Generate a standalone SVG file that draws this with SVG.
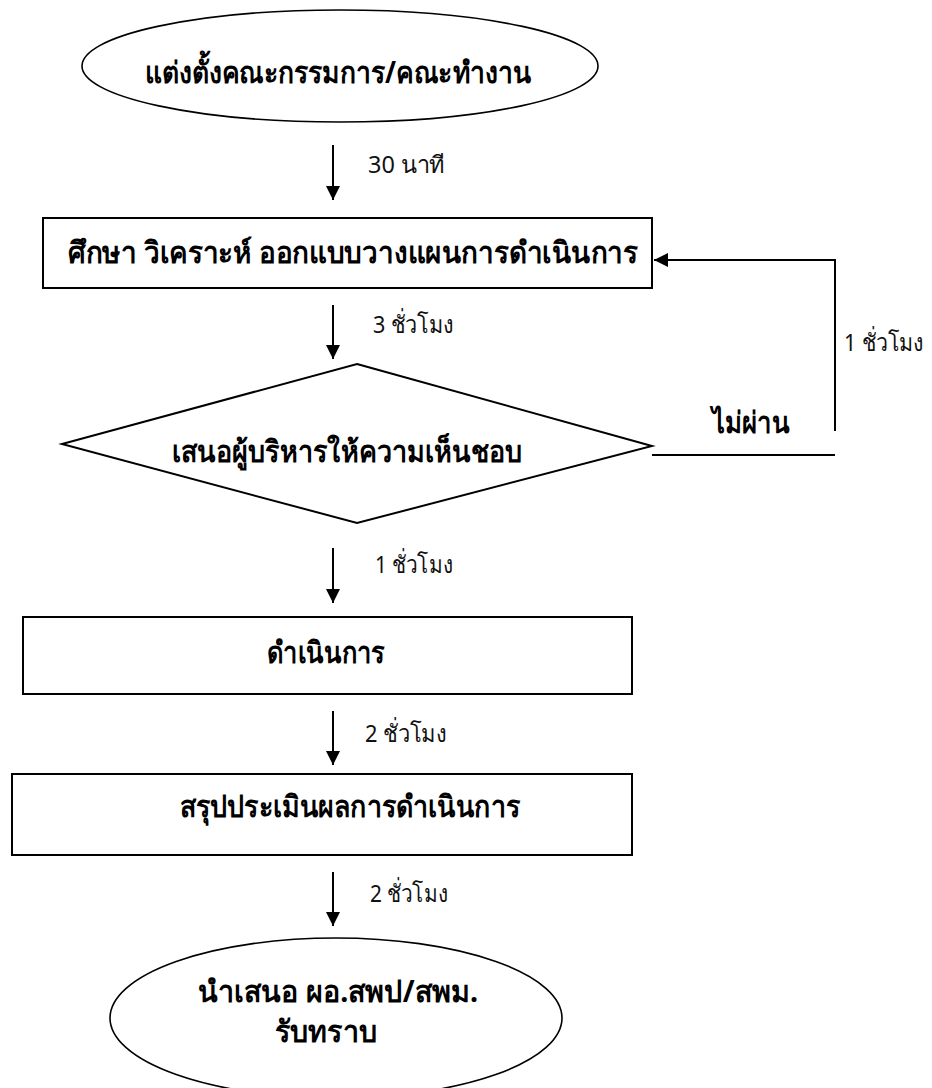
<svg xmlns="http://www.w3.org/2000/svg" width="932" height="1088" viewBox="0 0 932 1088">
<defs>
<style>
.node{fill:#fff;stroke:#000;stroke-width:2}
.term{fill:#fff;stroke:#000;stroke-width:1.6}
.t{font-family:"Noto Sans","DejaVu Sans",sans-serif;font-size:30px;font-weight:bold;fill:#000}
.lbl{font-family:"Noto Sans","DejaVu Sans",sans-serif;font-size:24px;font-weight:normal;fill:#111}
.edge{fill:none;stroke:#000;stroke-width:2}
</style>
<marker id="ah" viewBox="0 0 14 14" refX="14" refY="7" markerWidth="14" markerHeight="14" markerUnits="userSpaceOnUse" orient="auto">
<path d="M0,0 L14,7 L0,14 Z" fill="#000"/>
</marker>
</defs>
<rect width="932" height="1088" fill="#fff"/>
<g id="connectors">
<line class="edge" x1="333" y1="145" x2="333" y2="200" marker-end="url(#ah)"/>
<line class="edge" x1="333" y1="305" x2="333" y2="359" marker-end="url(#ah)"/>
<line class="edge" x1="333" y1="548" x2="333" y2="603" marker-end="url(#ah)"/>
<line class="edge" x1="333" y1="711" x2="333" y2="765" marker-end="url(#ah)"/>
<line class="edge" x1="333" y1="872" x2="333" y2="926" marker-end="url(#ah)"/>
<line class="edge" x1="652" y1="455" x2="835" y2="455"/>
<polyline class="edge" points="835,431 835,260 654,260" marker-end="url(#ah)"/>
<text class="lbl" x="368" y="173" textLength="77" lengthAdjust="spacingAndGlyphs">30 นาที</text>
<text class="lbl" x="373" y="333" textLength="81" lengthAdjust="spacingAndGlyphs">3 ชั่วโมง</text>
<text class="lbl" x="844" y="351" textLength="80" lengthAdjust="spacingAndGlyphs">1 ชั่วโมง</text>
<text class="t" x="712" y="433" textLength="78" lengthAdjust="spacingAndGlyphs">ไม่ผ่าน</text>
<text class="lbl" x="375" y="573" textLength="78" lengthAdjust="spacingAndGlyphs">1 ชั่วโมง</text>
<text class="lbl" x="365" y="742" textLength="82" lengthAdjust="spacingAndGlyphs">2 ชั่วโมง</text>
<text class="lbl" x="370" y="902" textLength="78" lengthAdjust="spacingAndGlyphs">2 ชั่วโมง</text>
</g>
<g id="start">
<ellipse class="term" cx="340" cy="66" rx="258" ry="56"/>
<text class="t" x="145" y="83" textLength="387" lengthAdjust="spacingAndGlyphs">แต่งตั้งคณะกรรมการ/คณะทำงาน</text>
</g>
<g id="study">
<rect class="node" x="43" y="218" width="609" height="70"/>
<text class="t" x="68" y="263" textLength="570" lengthAdjust="spacingAndGlyphs">ศึกษา วิเคราะห์ ออกแบบวางแผนการดำเนินการ</text>
</g>
<g id="approve">
<polygon class="node" points="357,364 652,446 357,523 62,444"/>
<text class="t" x="172" y="462" textLength="350" lengthAdjust="spacingAndGlyphs">เสนอผู้บริหารให้ความเห็นชอบ</text>
</g>
<g id="operate">
<rect class="node" x="23" y="617" width="609" height="77"/>
<text class="t" x="267" y="663" textLength="118" lengthAdjust="spacingAndGlyphs">ดำเนินการ</text>
</g>
<g id="evaluate">
<rect class="node" x="12" y="774" width="620" height="81"/>
<text class="t" x="180" y="817" textLength="340" lengthAdjust="spacingAndGlyphs">สรุปประเมินผลการดำเนินการ</text>
</g>
<g id="end">
<ellipse class="term" cx="336" cy="1018" rx="226" ry="80"/>
<text class="t" x="198" y="1002" textLength="280" lengthAdjust="spacingAndGlyphs">นำเสนอ ผอ.สพป/สพม.</text>
<text class="t" x="275" y="1042" textLength="102" lengthAdjust="spacingAndGlyphs">รับทราบ</text>
</g>
</svg>
